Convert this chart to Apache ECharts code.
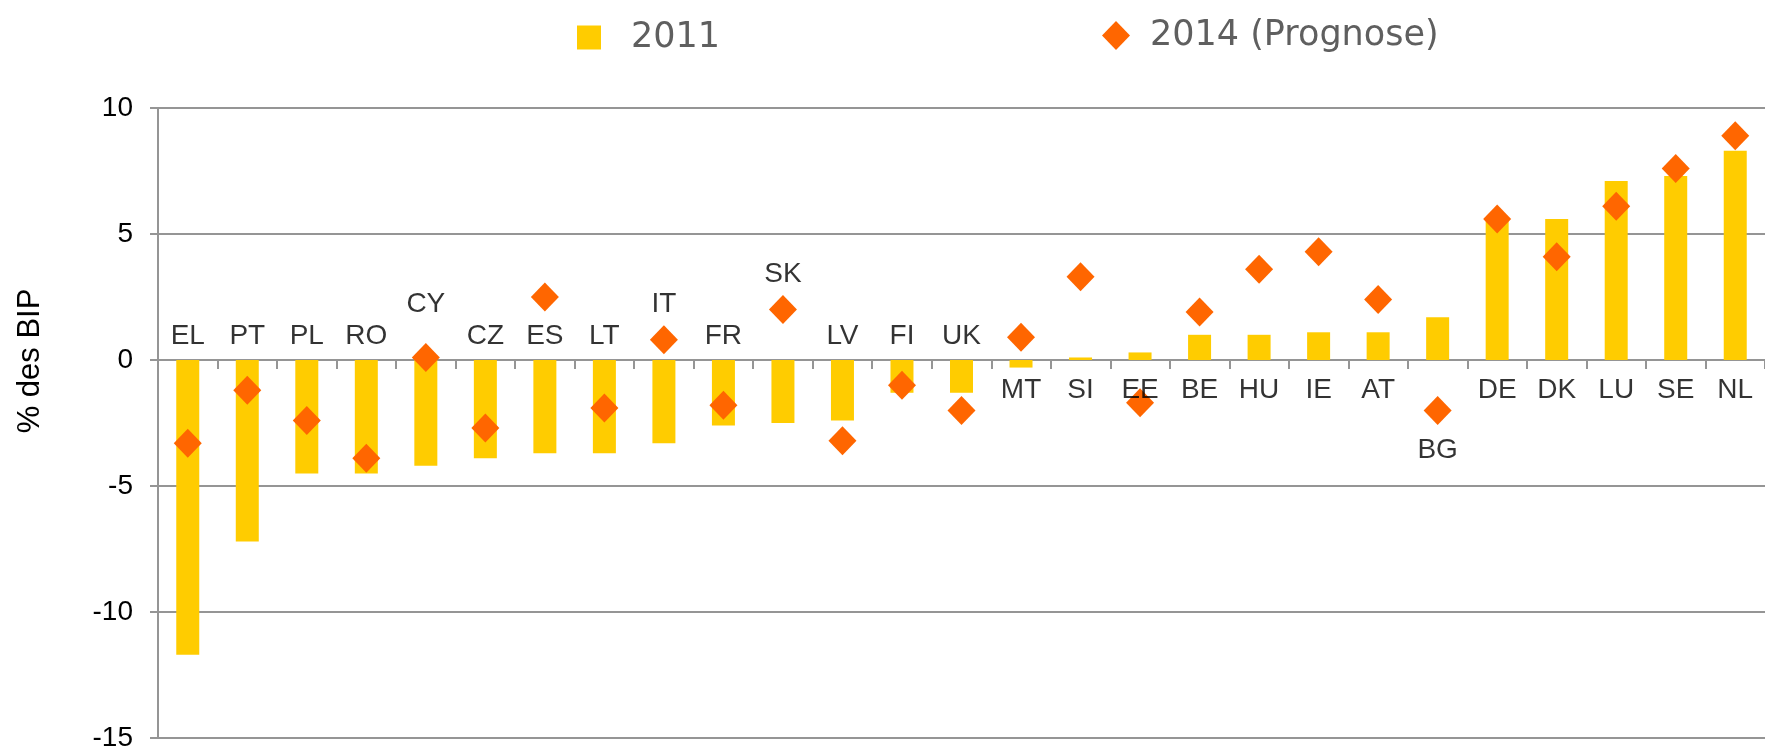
<!DOCTYPE html>
<html>
<head>
<meta charset="utf-8">
<script src="https://cdn.jsdelivr.net/npm/echarts@6/dist/echarts.min.js"></script>
<style>
  html, body { margin: 0; padding: 0; background: #fff; }
  #chart { width: 1765px; height: 752px; }
</style>
</head>
<body>
<div id="chart"></div>
<script>
// Länder (sortiert nach Leistungsbilanz 2011)
var countries = ['EL', 'PT', 'PL', 'RO', 'CY', 'CZ', 'ES', 'LT', 'IT', 'FR', 'SK', 'LV', 'FI', 'UK',
  'MT', 'SI', 'EE', 'BE', 'HU', 'IE', 'AT', 'BG', 'DE', 'DK', 'LU', 'SE', 'NL'];
// 2011, % des BIP
var values2011 = [-11.7, -7.2, -4.5, -4.5, -4.2, -3.9, -3.7, -3.7, -3.3, -2.6, -2.5, -2.4, -1.3, -1.3,
  -0.3, 0.1, 0.3, 1.0, 1.0, 1.1, 1.1, 1.7, 5.6, 5.6, 7.1, 7.3, 8.3];
// 2014 Prognose, % des BIP
var values2014 = [-3.3, -1.2, -2.4, -3.9, 0.1, -2.7, 2.5, -1.9, 0.8, -1.8, 2.0, -3.2, -1.0, -2.0,
  0.9, 3.3, -1.7, 1.9, 3.6, 4.3, 2.4, -2.0, 5.6, 4.1, 6.1, 7.6, 8.9];
var yTicks = [-15, -10, -5, 0, 5, 10];

// Lage der Länderkürzel (Achseneinheiten); Standard: gegenüber dem Balken
var labelAbove = 0.95;
var labelBelow = -1.2;
var labelOverride = { CY: 2.2, IT: 2.2, SK: 3.4, MT: -1.2, BG: -3.6 };

var labelPoints = countries.map(function (c, i) {
  var y = labelOverride[c] !== undefined ? labelOverride[c] : (values2011[i] < 0 ? labelAbove : labelBelow);
  return [i, y];
});

var chart = echarts.init(document.getElementById('chart'));
var axisColor = '#959595';
var txtFont = '"Liberation Sans", Arial, sans-serif';
var legendFont = '"DejaVu Sans", Verdana, sans-serif';

chart.setOption({
  animation: false,
  legend: [{
    left: 572, top: 15,
    icon: 'rect', itemWidth: 24, itemHeight: 24,
    selectedMode: false,
    data: ['2011'],
    textStyle: { fontFamily: legendFont, fontSize: 35, color: '#5f5f5f', padding: [0, 0, 0, 25] }
  }, {
    left: 1097, top: 13,
    icon: 'diamond', itemWidth: 28, itemHeight: 29,
    selectedMode: false,
    data: ['2014 (Prognose)'],
    textStyle: { fontFamily: legendFont, fontSize: 35, color: '#5f5f5f', padding: [0, 0, 0, 15] }
  }],
  grid: { left: 158, top: 108, bottom: 11, right: -8 },
  xAxis: {
    type: 'category',
    data: countries,
    axisLine: { onZero: true, lineStyle: { color: axisColor, width: 2 } },
    axisTick: { show: true, interval: 0, length: 9, lineStyle: { color: axisColor, width: 2 } },
    axisLabel: { show: false },
    splitLine: { show: false }
  },
  yAxis: {
    type: 'value',
    min: -15, max: 10, interval: 5,
    name: '% des BIP',
    nameLocation: 'middle',
    nameGap: 112,
    nameRotate: 90,
    nameTextStyle: { fontFamily: txtFont, fontSize: 31, color: '#000', padding: [0, 0, 0, 124] },
    axisLine: { show: true, lineStyle: { color: axisColor, width: 2 } },
    axisTick: { show: true, length: 8, lineStyle: { color: axisColor, width: 2 } },
    axisLabel: {
      fontFamily: txtFont, fontSize: 28, color: '#000', margin: 25,
      formatter: function (v) { return yTicks.indexOf(v) >= 0 ? String(v) : ''; }
    },
    splitLine: { show: true, lineStyle: { color: axisColor, width: 2 } }
  },
  series: [{
    name: '2011',
    type: 'bar',
    data: values2011,
    barWidth: 23,
    itemStyle: { color: '#FFCC00' },
    z: 2
  }, {
    name: '2014 (Prognose)',
    type: 'scatter',
    data: values2014,
    symbol: 'diamond',
    symbolSize: [28, 29],
    itemStyle: { color: '#FF6600', opacity: 1 },
    z: 3
  }, {
    name: 'labels',
    type: 'scatter',
    data: labelPoints,
    symbolSize: 1,
    itemStyle: { color: 'rgba(0,0,0,0)' },
    silent: true,
    label: {
      show: true,
      position: 'inside',
      fontFamily: txtFont,
      fontSize: 28,
      color: '#000',
      formatter: function (p) { return countries[p.dataIndex]; }
    },
    z: 4
  }]
});
</script>
</body>
</html>
